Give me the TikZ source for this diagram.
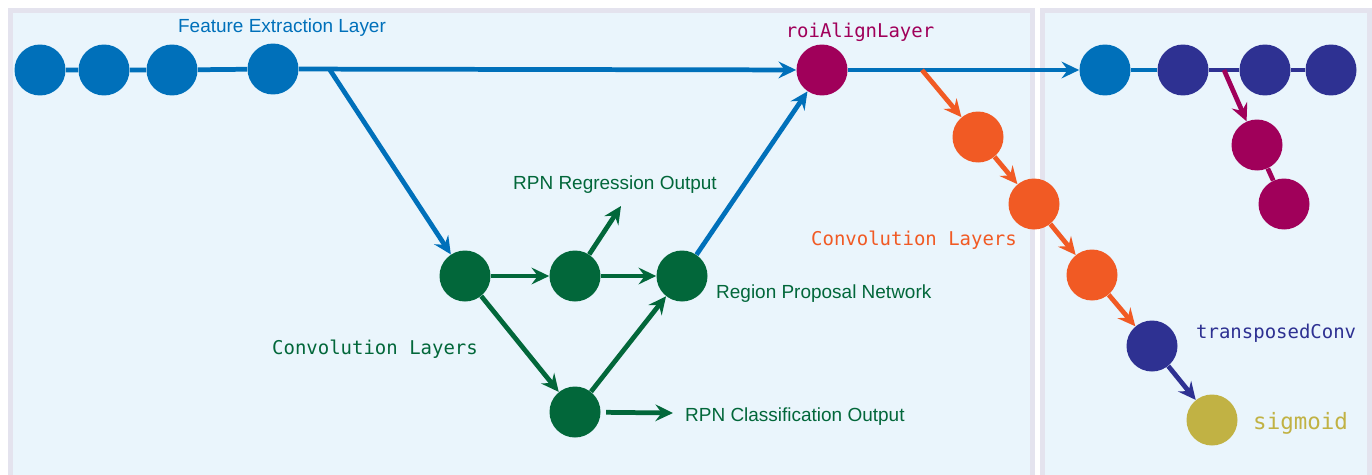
\documentclass[tikz,border=0pt]{standalone}
\usepackage{fontspec}
\setmainfont{Liberation Sans}
\setmonofont{DejaVu Sans Mono}
\usepackage{xcolor}
\usepackage{tikz}
\usetikzlibrary{positioning,arrows.meta}
\definecolor{featblue}{HTML}{0070BA}
\definecolor{rpngreen}{HTML}{02673A}
\definecolor{roipurple}{HTML}{A0005A}
\definecolor{convorange}{HTML}{F15A24}
\definecolor{deconvblue}{HTML}{2E3192}
\definecolor{sigyellow}{HTML}{C1B244}
\definecolor{panelbg}{HTML}{EAF5FC}
\definecolor{panelline}{HTML}{E4E3EE}
\begin{document}
\begin{tikzpicture}[
      x=0.02cm, y=-0.02cm,
      layer/.style={circle, minimum size=1.02cm, inner sep=0pt},
      panel/.style={fill=panelbg, draw=panelline, line width=2.8pt},
      link/.style={line width=2.7pt},
      arrow/.style={link, -{Stealth[length=10pt, width=9.5pt, inset=3.5pt]}},
      lbl/.style={font=\fontsize{10.8}{13}\selectfont},
      code/.style={font=\fontsize{10.8}{13}\selectfont\ttfamily}
  ]
  \useasboundingbox (0,0) rectangle (1372,474);
  \clip (0,0) rectangle (1372,474);
  % Panels
  \draw[panel] (10.5,10.5) rectangle (1032.5,490);
  \draw[panel] (1042.5,10.5) rectangle (1369.5,490);
  % Nodes
  \node[layer, fill=featblue] (f1) at (40,70) {};
  \node[layer, fill=featblue] (f2) at (104,70) {};
  \node[layer, fill=featblue] (f3) at (172,70) {};
  \node[layer, fill=featblue] (f4) at (273,69) {};
  \node[layer, fill=roipurple] (roi) at (822,70) {};
  \node[layer, fill=rpngreen] (c1) at (465,276) {};
  \node[layer, fill=rpngreen] (c2) at (575,276) {};
  \node[layer, fill=rpngreen] (rpn) at (682,276) {};
  \node[layer, fill=rpngreen] (c3) at (575,412) {};
  \node[layer, fill=convorange] (o1) at (978,137) {};
  \node[layer, fill=convorange] (o2) at (1034,204) {};
  \node[layer, fill=convorange] (o3) at (1092,275) {};
  \node[layer, fill=deconvblue] (tconv) at (1152,346) {};
  \node[layer, fill=sigyellow] (sig) at (1212,420) {};
  \node[layer, fill=featblue] (r1) at (1105,70) {};
  \node[layer, fill=deconvblue] (r2) at (1183,70) {};
  \node[layer, fill=deconvblue] (r3) at (1265,70) {};
  \node[layer, fill=deconvblue] (r4) at (1331,70) {};
  \node[layer, fill=roipurple] (m1) at (1257,145) {};
  \node[layer, fill=roipurple] (m2) at (1284,204) {};
  \coordinate (split) at (330,70);
  \coordinate (osplit) at (922,70);
  \coordinate (msplit) at (1224,70);
  \coordinate (regout) at (621,206);
  \coordinate (clsout) at (673,413);
  % Labels
  \node[lbl, text=featblue] (featlbl) at (282,28) {Feature Extraction Layer};
  \node[code, text=roipurple] (roilbl) at (860,32) {roiAlignLayer};
  \node[lbl, text=rpngreen] (reglbl) at (615,185) {RPN Regression Output};
  \node[lbl, text=rpngreen, anchor=west] (rpnlbl) at (710,294) {Region Proposal Network};
  \node[lbl, text=rpngreen, anchor=west] (clslbl) at (679,417) {RPN Classification Output};
  \node[code, text=rpngreen] (convlbl) at (375,349) {Convolution Layers};
  \node[code, text=convorange] (oconvlbl) at (914,240) {Convolution Layers};
  \node[code, text=deconvblue, anchor=west] (tconvlbl) at (1190,333) {transposedConv};
  \node[code, text=sigyellow, anchor=west, font=\fontsize{12.8}{15}\selectfont\ttfamily] (siglbl) at (1247,423) {sigmoid};
  % Arrows
  \draw[link, featblue] (f1) -- (f2) -- (f3) -- (f4);
  \draw[arrow, featblue] (f4) -- (roi);
  \draw[arrow, featblue] (split) -- (c1);
  \draw[arrow, featblue] (rpn) -- (roi);
  \draw[arrow, featblue] (roi) -- (r1);
  \draw[arrow, rpngreen] (c1) -- (c2);
  \draw[arrow, rpngreen] (c2) -- (rpn);
  \draw[arrow, rpngreen] (c1) -- (c3);
  \draw[arrow, rpngreen] (c3) -- (rpn);
  \draw[arrow, rpngreen] (c2) -- (regout);
  \draw[arrow, rpngreen, shorten <=3pt] (c3) -- (clsout);
  \draw[arrow, convorange] (osplit) -- (o1);
  \draw[arrow, convorange] (o1) -- (o2);
  \draw[arrow, convorange] (o2) -- (o3);
  \draw[arrow, convorange] (o3) -- (tconv);
  \draw[arrow, deconvblue] (tconv) -- (sig);
  \draw[link, featblue] (r1) -- (r2);
  \draw[link, deconvblue, line width=1.8pt] (r2) -- (r3) -- (r4);
  \draw[arrow, roipurple] (msplit) -- (m1);
  \draw[link, roipurple] (m1) -- (m2);
\end{tikzpicture}
\end{document}
